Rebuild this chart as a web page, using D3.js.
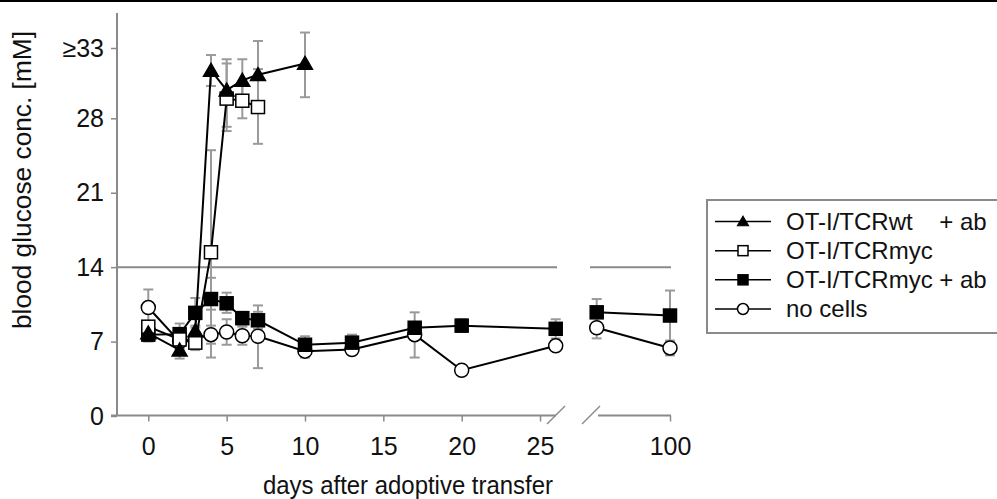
<!DOCTYPE html>
<html><head><meta charset="utf-8">
<script src="https://cdn.jsdelivr.net/npm/d3@7/dist/d3.min.js"></script>
<style>
html,body{margin:0;padding:0;background:#fff;}
svg text{font-family:"Liberation Sans",Arial,sans-serif;fill:#111;}
</style></head><body>
<svg id="c" width="997" height="499"></svg>
<script>
// ---- data ----
const seriesNames = ["OT-I/TCRwt    + ab", "OT-I/TCRmyc", "OT-I/TCRmyc + ab", "no cells"];
const xTicks1 = [0, 5, 10, 15, 20, 25];
const xTicks2 = [100];
const yTicks = [0, 7, 14, 21, 28, 33];
const yTickLabels = ["0", "7", "14", "21", "28", "≥33"];
const threshold = 14;

const wtDays = [0, 2, 3, 4, 5, 6, 7, 10];
const wtVals = [7.8, 6.2, 8.0, 31.4, 30.0, 30.7, 31.1, 31.9];
const wtLo   = [7.3, 5.4, 7.5, 30.3, 27.2, 29.3, 28.7, 29.5];
const wtHi   = [8.3, 7.0, 8.5, 32.5, 32.2, 32.2, 33.5, 34.1];

const mycDays = [0, 2, 3, 4, 5, 6, 7];
const mycVals = [8.4, 7.2, 6.9, 15.4, 29.4, 29.25, 28.8];
const mycLo   = [7.9, 6.5, 6.2, 5.5, 26.8, 28.0, 25.6];
const mycHi   = [8.9, 7.9, 7.6, 25.0, 31.9, 30.5, 31.5];

const mycAbDays = [0, 2, 3, 4, 5, 6, 7, 10, 13, 17, 20, 26, 95, 100];
const mycAbVals = [7.65, 7.7, 9.7, 11.0, 10.6, 9.2, 9.0, 6.7, 6.9, 8.3, 8.5, 8.2, 9.75, 9.45];
const mycAbLo   = [7.0, 6.9, 8.3, 10.0, 9.7, 8.6, 8.2, 6.2, 6.4, 7.8, 7.9, 7.3, 8.5, 7.0];
const mycAbHi   = [8.3, 8.7, 11.1, 13.0, 11.6, 9.8, 9.8, 7.5, 7.65, 8.8, 9.1, 9.1, 11.0, 11.8];

const noDays = [0, 2, 4, 5, 6, 7, 10, 13, 17, 20, 26, 95, 100];
const noVals = [10.2, 7.0, 7.65, 7.9, 7.55, 7.5, 6.1, 6.25, 7.65, 4.3, 6.6, 8.3, 6.4];
const noLo   = [8.5, 6.3, 6.8, 6.7, 6.7, 4.5, 5.5, 5.8, 5.5, 4.0, 6.3, 7.3, 5.7];
const noHi   = [11.9, 7.7, 8.5, 9.1, 8.4, 10.4, 6.7, 6.7, 9.75, 4.6, 6.9, 9.3, 7.1];

// ---- build ----
function mk(days, vals, lo, hi) { return days.map((d, i) => ({d, v: vals[i], lo: lo[i], hi: hi[i]})); }
const series = [
  {name: seriesNames[0], sym: "tri", fill: "#000", pts: mk(wtDays, wtVals, wtLo, wtHi)},
  {name: seriesNames[1], sym: "sq", fill: "#fff", pts: mk(mycDays, mycVals, mycLo, mycHi)},
  {name: seriesNames[2], sym: "sq", fill: "#000", pts: mk(mycAbDays, mycAbVals, mycAbLo, mycAbHi)},
  {name: seriesNames[3], sym: "circ", fill: "#fff", pts: mk(noDays, noVals, noLo, noHi)}
];

const svg = d3.select("#c");
const gray = "#8a8a8a";
svg.append("rect").attr("x", 0).attr("y", 0).attr("width", 997).attr("height", 2).attr("fill", "#000");

const x1 = d3.scaleLinear().domain([0, 26]).range([148.3, 555.7]);
const x2 = d3.scaleLinear().domain([95, 100]).range([596.7, 670]);
const xs = d => d <= 26 ? x1(d) : x2(d);
const y = d3.scaleLinear().domain([0, 28, 33]).range([416, 118.3, 48]);

// threshold lines
const thr = svg.append("g").attr("stroke", gray).attr("stroke-width", 2);
thr.append("line").attr("x1", 117).attr("x2", 557).attr("y1", y(threshold)).attr("y2", y(threshold));
thr.append("line").attr("x1", 590).attr("x2", 671).attr("y1", y(threshold)).attr("y2", y(threshold));

const FONT = "Liberation Sans, Arial, sans-serif";
// y axis
const yAx = svg.append("g").attr("transform", "translate(117,0)")
  .call(d3.axisLeft(y).tickValues(yTicks).tickFormat((d, i) => yTickLabels[i]).tickSize(6).tickPadding(7).tickSizeOuter(0));
yAx.select(".domain").remove();
yAx.selectAll("line").attr("stroke", gray).attr("stroke-width", 1.5);
yAx.selectAll("text").attr("font-size", 25).attr("fill", "#111").attr("font-family", FONT);
svg.append("line").attr("x1", 117).attr("x2", 117).attr("y1", 13).attr("y2", 416).attr("stroke", gray).attr("stroke-width", 2);

// x axis
const axY = 415.5;
const xa1 = svg.append("g").attr("transform", `translate(0,${axY})`)
  .call(d3.axisBottom(x1).tickValues(xTicks1).tickFormat(d3.format("d")).tickSize(6).tickPadding(16).tickSizeOuter(0));
const xa2 = svg.append("g").attr("transform", `translate(0,${axY})`)
  .call(d3.axisBottom(x2).tickValues(xTicks2).tickFormat(d3.format("d")).tickSize(6).tickPadding(16).tickSizeOuter(0));
[xa1, xa2].forEach(g => {
  g.select(".domain").remove();
  g.selectAll("line").attr("stroke", gray).attr("stroke-width", 1.5);
  g.selectAll("text").attr("font-size", 25).attr("fill", "#111").attr("font-family", FONT);
});
const axg = svg.append("g").attr("stroke", gray).attr("stroke-width", 2);
axg.append("line").attr("x1", 111).attr("x2", 556).attr("y1", axY).attr("y2", axY);
axg.append("line").attr("x1", 598).attr("x2", 671).attr("y1", axY).attr("y2", axY);
axg.append("line").attr("x1", 547).attr("x2", 565).attr("y1", 424).attr("y2", 406).attr("stroke-width", 1.5);
axg.append("line").attr("x1", 582).attr("x2", 600).attr("y1", 424).attr("y2", 406).attr("stroke-width", 1.5);

// titles
svg.append("text").attr("x", 408).attr("y", 494).attr("text-anchor", "middle").attr("font-size", 25)
  .attr("textLength", 290).attr("lengthAdjust", "spacingAndGlyphs")
  .text("days after adoptive transfer");
svg.append("text").attr("transform", "translate(31,180) rotate(-90)").attr("text-anchor", "middle").attr("font-size", 25)
  .attr("textLength", 298).attr("lengthAdjust", "spacingAndGlyphs")
  .text("blood glucose conc. [mM]");

// error bars
const eb = svg.append("g").attr("stroke", "#9a9a9a").attr("stroke-width", 2);
series.forEach(s => s.pts.forEach(p => {
  const cx = xs(p.d);
  eb.append("line").attr("x1", cx).attr("x2", cx).attr("y1", y(p.lo)).attr("y2", y(p.hi));
  eb.append("line").attr("x1", cx - 5).attr("x2", cx + 5).attr("y1", y(p.lo)).attr("y2", y(p.lo));
  eb.append("line").attr("x1", cx - 5).attr("x2", cx + 5).attr("y1", y(p.hi)).attr("y2", y(p.hi));
}));

// lines
const line = d3.line().x(p => xs(p.d)).y(p => y(p.v));
series.forEach(s => {
  const segA = s.pts.filter(p => p.d <= 26), segB = s.pts.filter(p => p.d > 26);
  [segA, segB].forEach(seg => {
    if (seg.length > 1) svg.append("path").attr("d", line(seg)).attr("fill", "none").attr("stroke", "#000").attr("stroke-width", 2);
  });
});

// markers
function marker(g, sym, fill, cx, cy, r) {
  if (sym === "tri") {
    g.append("path").attr("d", `M${cx},${cy - r * 1.05}L${cx + r * 1.1},${cy + r * 0.85}L${cx - r * 1.1},${cy + r * 0.85}Z`)
      .attr("fill", fill).attr("stroke", "#000").attr("stroke-width", 1.2);
  } else if (sym === "sq") {
    g.append("rect").attr("x", cx - r).attr("y", cy - r).attr("width", 2 * r).attr("height", 2 * r)
      .attr("fill", fill).attr("stroke", "#000").attr("stroke-width", 1.5);
  } else {
    g.append("circle").attr("cx", cx).attr("cy", cy).attr("r", r).attr("fill", fill).attr("stroke", "#000").attr("stroke-width", 1.5);
  }
}
const mg = svg.append("g");
[3, 2, 1, 0].forEach(i => {
  const s = series[i];
  s.pts.forEach(p => marker(mg, s.sym, s.fill, xs(p.d), y(p.v), s.sym === "circ" ? 7 : (s.sym === "tri" ? 7 : 6.5)));
});

// legend
const lg = svg.append("g");
lg.append("rect").attr("x", 707).attr("y", 200).attr("width", 300).attr("height", 133)
  .attr("fill", "#fff").attr("stroke", gray).attr("stroke-width", 2);
const ly = d3.scalePoint().domain(seriesNames).range([221.5, 309]);
series.forEach(s => {
  const yy = ly(s.name);
  lg.append("line").attr("x1", 715).attr("x2", 771).attr("y1", yy).attr("y2", yy).attr("stroke", "#000").attr("stroke-width", 1.5);
  marker(lg, s.sym, s.fill, 743, yy, s.sym === "circ" ? 5.5 : 5);
  lg.append("text").attr("x", 786).attr("y", yy + 8).attr("font-size", 24).style("white-space", "pre").text(s.name);
});
</script>
</body></html>
